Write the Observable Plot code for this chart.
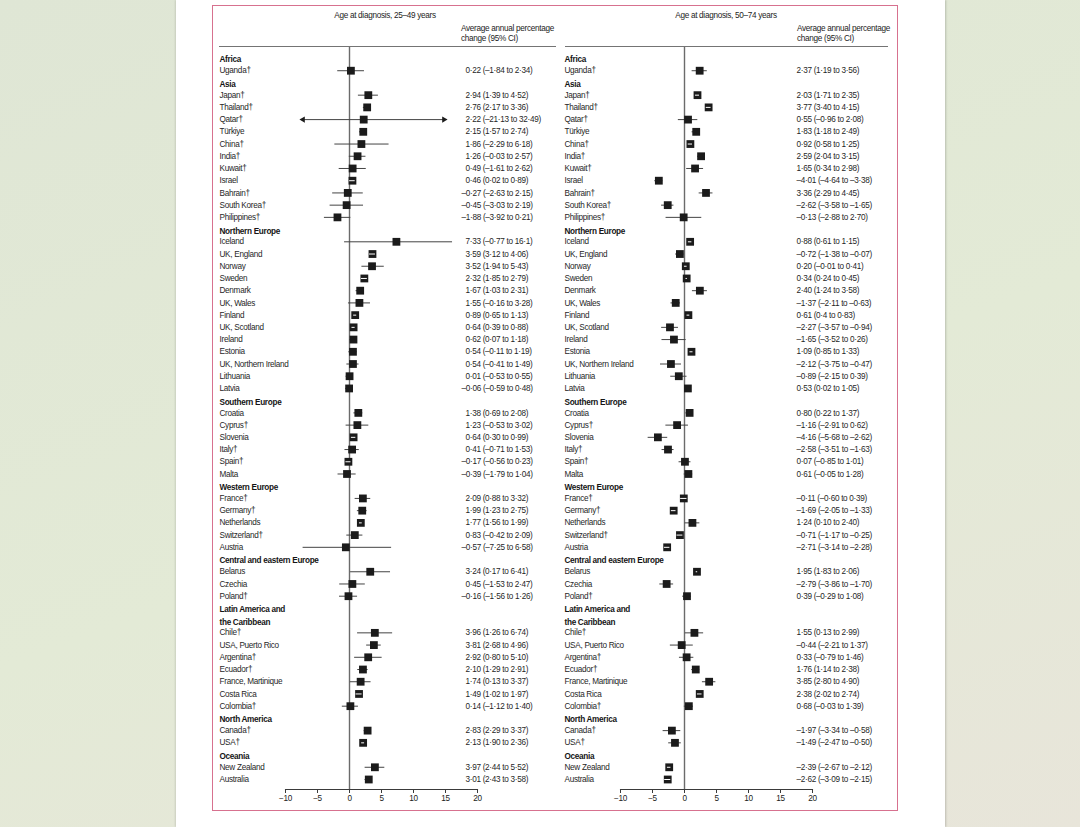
<!DOCTYPE html>
<html><head><meta charset="utf-8">
<script src="https://cdn.jsdelivr.net/npm/d3@7"></script>
<script src="https://cdn.jsdelivr.net/npm/@observablehq/plot@0.6"></script>
<style>
html,body{margin:0;padding:0;}
body{width:1080px;height:827px;overflow:hidden;position:relative;
  background:linear-gradient(160deg,#dfe6d5 0%,#e3ead6 55%,#e8e5da 100%);
  font-family:"Liberation Sans",Arial,sans-serif;}
#page{position:absolute;left:176px;top:0;width:769px;height:827px;background:#fff;box-shadow:1px 0 2px rgba(0,0,0,0.18),-1px 0 2px rgba(0,0,0,0.10);}
#border{position:absolute;left:212px;top:5px;width:686px;height:806px;border:1.5px solid #d7718f;box-sizing:border-box;}
.panel{position:absolute;top:0;}
.ptitle{position:absolute;top:10px;font-size:8.2px;line-height:11px;letter-spacing:-0.3px;color:#1c1c1c;white-space:nowrap;transform:translateX(-50%);}
.chead{position:absolute;top:23.5px;font-size:8.2px;line-height:10.5px;letter-spacing:-0.3px;color:#1c1c1c;white-space:nowrap;}
.hrule{position:absolute;top:46.2px;height:0;border-top:1.6px solid #747474;}
</style>
</head>
<body>
<div id="page"></div>
<div id="border"></div>
<div class="ptitle" style="left:385px">Age at diagnosis, 25–49 years</div>
<div class="ptitle" style="left:726px">Age at diagnosis, 50–74 years</div>
<div class="chead" style="left:461px">Average annual percentage<br>change (95% CI)</div>
<div class="chead" style="left:797px">Average annual percentage<br>change (95% CI)</div>
<div class="hrule" style="left:219px;width:337px"></div>
<div class="hrule" style="left:565px;width:323px"></div>
<div id="left" class="panel" style="left:212px"></div>
<div id="right" class="panel" style="left:560px"></div>
<script>
// ---- data ----
const regions = ["Africa","Asia","Northern Europe","Southern Europe","Western Europe","Central and eastern Europe","Latin America and\nthe Caribbean","North America","Oceania"];
const regionSizes = [1, 11, 13, 6, 5, 3, 7, 2, 2];
const countries = ["Uganda†",
  "Japan†","Thailand†","Qatar†","Türkiye","China†","India†","Kuwait†","Israel","Bahrain†","South Korea†","Philippines†",
  "Iceland","UK, England","Norway","Sweden","Denmark","UK, Wales","Finland","UK, Scotland","Ireland","Estonia","UK, Northern Ireland","Lithuania","Latvia",
  "Croatia","Cyprus†","Slovenia","Italy†","Spain†","Malta",
  "France†","Germany†","Netherlands","Switzerland†","Austria",
  "Belarus","Czechia","Poland†",
  "Chile†","USA, Puerto Rico","Argentina†","Ecuador†","France, Martinique","Costa Rica","Colombia†",
  "Canada†","USA†",
  "New Zealand","Australia"];

const est25 = ["0.22","2.94","2.76","2.22","2.15","1.86","1.26","0.49","0.46","-0.27","-0.45","-1.88","7.33","3.59","3.52","2.32","1.67","1.55","0.89","0.64","0.62","0.54","0.54","0.01","-0.06","1.38","1.23","0.64","0.41","-0.17","-0.39","2.09","1.99","1.77","0.83","-0.57","3.24","0.45","-0.16","3.96","3.81","2.92","2.10","1.74","1.49","0.14","2.83","2.13","3.97","3.01"];
const lo25 = ["-1.84","1.39","2.17","-21.13","1.57","-2.29","-0.03","-1.61","0.02","-2.63","-3.03","-3.92","-0.77","3.12","1.94","1.85","1.03","-0.16","0.65","0.39","0.07","-0.11","-0.41","-0.53","-0.59","0.69","-0.53","0.30","-0.71","-0.56","-1.79","0.88","1.23","1.56","-0.42","-7.25","0.17","-1.53","-1.56","1.26","2.68","0.80","1.29","0.13","1.02","-1.12","2.29","1.90","2.44","2.43"];
const hi25 = ["2.34","4.52","3.36","32.49","2.74","6.18","2.57","2.62","0.89","2.15","2.19","0.21","16.1","4.06","5.43","2.79","2.31","3.28","1.13","0.88","1.18","1.19","1.49","0.55","0.48","2.08","3.02","0.99","1.53","0.23","1.04","3.32","2.75","1.99","2.09","6.58","6.41","2.47","1.26","6.74","4.96","5.10","2.91","3.37","1.97","1.40","3.37","2.36","5.52","3.58"];

const est50 = ["2.37","2.03","3.77","0.55","1.83","0.92","2.59","1.65","-4.01","3.36","-2.62","-0.13","0.88","-0.72","0.20","0.34","2.40","-1.37","0.61","-2.27","-1.65","1.09","-2.12","-0.89","0.53","0.80","-1.16","-4.16","-2.58","0.07","0.61","-0.11","-1.69","1.24","-0.71","-2.71","1.95","-2.79","0.39","1.55","-0.44","0.33","1.76","3.85","2.38","0.68","-1.97","-1.49","-2.39","-2.62"];
const lo50 = ["1.19","1.71","3.40","-0.96","1.18","0.58","2.04","0.34","-4.64","2.29","-3.58","-2.88","0.61","-1.38","-0.01","0.24","1.24","-2.11","0.4","-3.57","-3.52","0.85","-3.75","-2.15","0.02","0.22","-2.91","-5.68","-3.51","-0.85","-0.05","-0.60","-2.05","0.10","-1.17","-3.14","1.83","-3.86","-0.29","0.13","-2.21","-0.79","1.14","2.80","2.02","-0.03","-3.34","-2.47","-2.67","-3.09"];
const hi50 = ["3.56","2.35","4.15","2.08","2.49","1.25","3.15","2.98","-3.38","4.45","-1.65","2.70","1.15","-0.07","0.41","0.45","3.58","-0.63","0.83","-0.94","0.26","1.33","-0.47","0.39","1.05","1.37","0.62","-2.62","-1.63","1.01","1.28","0.39","-1.33","2.40","-0.25","-2.28","2.06","-1.70","1.08","2.99","1.37","1.46","2.38","4.90","2.74","1.39","-0.58","-0.50","-2.12","-2.15"];

const xTicks = [-10, -5, 0, 5, 10, 15, 20];
const arrowLimits = [-7.5, 15];

// ---- rows ----
const headerData = [];
const countryRow = [];
{
  let r = 0;
  regions.forEach((reg, k) => {
    const lines = reg.split("\n").length;
    headerData.push({label: reg, row: r + (lines - 1) / 2});
    r += lines;
    for (let j = 0; j < regionSizes[k]; j++) countryRow.push(r++);
  });
}
const nRows = countryRow[countryRow.length - 1];
const f = s => s.replace("-", "–").replace(".", "·");

function panel({est, lo, hi, width, marginLeft, marginRight, labelDx, ciDxPos, ciDxNeg}) {
  const dom = [xTicks[0], xTicks[xTicks.length - 1]];
  const data = countries.map((c, i) => {
    const l = +lo[i], h = +hi[i];
    return {
      label: c, row: countryRow[i], e: +est[i], l, h,
      lc: l < dom[0] ? arrowLimits[0] : l,
      hc: h > dom[1] ? arrowLimits[1] : h,
      arrowL: l < dom[0], arrowR: h > dom[1],
      text: `${f(est[i])} (${f(lo[i])} to ${f(hi[i])})`,
      neg: est[i].startsWith("-")
    };
  });
  const narrow = data.filter(d => d.h - d.l < 1.0);
  const txt = "#1f1f1f";
  return Plot.plot({
    width, height: 812,
    marginLeft, marginRight, marginTop: 47, marginBottom: 23,
    insetTop: 11, insetBottom: 10,
    x: {domain: dom},
    y: {domain: [0, nRows], reverse: true, axis: null},
    style: {fontFamily: '"Liberation Sans", Arial, sans-serif', fontSize: "8.2px", letterSpacing: "-0.3px", background: "transparent", color: "#222", overflow: "visible"},
    marks: [
      Plot.ruleX([0], {stroke: "#6b6b6b", strokeWidth: 1.4}),
      Plot.frame({anchor: "bottom", stroke: "#3a3a3a", strokeWidth: 1.1}),
      Plot.axisX({ticks: xTicks, tickSize: 4, tickPadding: 2, label: null, fontSize: 8.2, stroke: "#3a3a3a"}),
      Plot.ruleY(data, {y: "row", x1: "lc", x2: "hc", stroke: "#444", strokeWidth: 1}),
      Plot.dot(data.filter(d => d.arrowL), {x: "lc", y: "row", symbol: "triangle", r: 2.3, rotate: -90, fill: "#1b1b1b", dx: 1.5}),
      Plot.dot(data.filter(d => d.arrowR), {x: "hc", y: "row", symbol: "triangle", r: 2.3, rotate: 90, fill: "#1b1b1b", dx: -1.5}),
      Plot.dot(data, {x: "e", y: "row", symbol: "square", r: 4.4, fill: "#1b1b1b"}),
      Plot.ruleY(narrow, {y: "row", x1: "l", x2: "h", stroke: "#fff", strokeWidth: 1}),
      Plot.text(headerData, {y: "row", text: "label", frameAnchor: "left", dx: labelDx, textAnchor: "start", fontWeight: "bold", lineHeight: 1.49, fill: "#151515"}),
      Plot.text(data, {y: "row", text: "label", frameAnchor: "left", dx: labelDx, textAnchor: "start", fill: txt}),
      Plot.text(data.filter(d => !d.neg), {y: "row", text: "text", frameAnchor: "left", dx: ciDxPos, textAnchor: "start", fill: txt}),
      Plot.text(data.filter(d => d.neg), {y: "row", text: "text", frameAnchor: "left", dx: ciDxNeg, textAnchor: "start", fill: txt})
    ]
  });
}

document.getElementById("left").append(panel({est: est25, lo: lo25, hi: hi25, width: 348, marginLeft: 73, marginRight: 83, labelDx: -66, ciDxPos: 180, ciDxNeg: 176}));
document.getElementById("right").append(panel({est: est50, lo: lo50, hi: hi50, width: 340, marginLeft: 60, marginRight: 88, labelDx: -56, ciDxPos: 176, ciDxNeg: 176}));
</script>
</body></html>
